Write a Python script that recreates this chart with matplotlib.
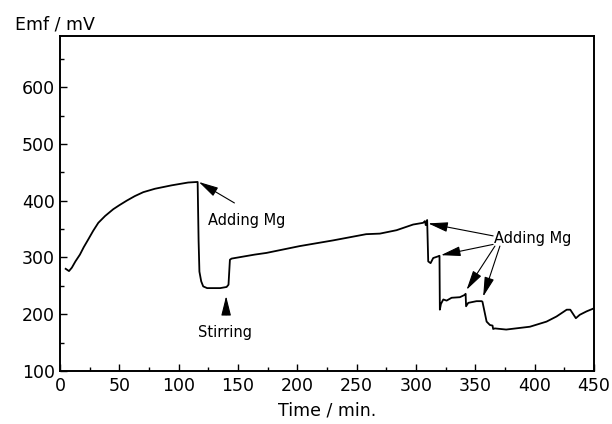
import matplotlib
matplotlib.use("Agg")
import matplotlib.pyplot as plt
from matplotlib.ticker import MultipleLocator

plt.rcParams["font.family"] = ["DejaVu Sans"]

# emf trace
time_min = [4.8, 7.6, 10, 13, 16.8, 20, 23.9, 28, 32.3, 38, 44.9, 50, 56.2, 63, 70.2,
            80, 94, 108, 116,
            116.8, 117.5, 119, 120.7, 124, 127.8, 135, 140.4, 142, 143.2, 144.6, 164, 174,
            202, 230, 258, 269.6, 283.6, 297.6, 306, 307.5, 308.2, 309.4,
            310.3, 312.3, 314.5, 318.7, 319.8, 320.1, 321, 323, 325.8, 330, 337, 341,
            341.8, 342.2, 344, 351, 355.3, 356, 359.5, 362.3, 364.5, 365, 366.5, 376,
            396, 410, 418.4, 427, 430, 434.7, 438, 443.7, 449.5]
emf_mv = [280, 276, 282, 293, 305, 318, 332, 347, 361, 373, 385, 392, 400, 408, 415,
          421, 427, 432, 433,
          330, 275, 258, 249, 246, 246, 246, 248, 252, 296, 298, 305, 308,
          320, 330, 341, 342, 348, 358, 361, 364, 357, 366,
          293, 290, 299, 302, 303, 208, 218, 226, 224, 229, 230, 234,
          236, 214, 220, 223, 223, 222, 187, 181, 180, 174, 175, 173,
          178, 187, 196, 208, 208, 193, 199, 205, 210]

# annotation labels, their positions and arrow tip/tail points (data units)
stir_text, stir_pos, stir_tip, stir_tail = "Stirring", (139, 168), (140, 232), (140, 199)
mg1_text, mg1_pos, mg1_tip, mg1_tail = "Adding Mg", (125, 365), (117, 433), (147, 396)
mg2_text, mg2_pos = "Adding Mg", (366, 334)
mg2_tips = [(310.3, 360), (321, 304), (342.6, 243), (356.6, 231)]
mg2_tails = [(365, 338), (365, 323), (366.5, 320), (370.7, 320)]

fig = plt.figure(figsize=(6.12, 4.24), dpi=100)
ax = fig.add_axes([0.098, 0.125, 0.8726, 0.79])
ax.plot(time_min, emf_mv, color="black", lw=1.3)

ax.set_xlim(0, 450)
ax.set_ylim(100, 690)
ax.xaxis.set_major_locator(MultipleLocator(50))
ax.xaxis.set_minor_locator(MultipleLocator(25))
ax.yaxis.set_minor_locator(MultipleLocator(50))
ax.set_yticks([100, 200, 300, 400, 500, 600])
ax.tick_params(which="both", direction="in", labelsize=12.5, top=False, right=False)
ax.tick_params(which="major", length=5, width=1)
ax.tick_params(which="minor", length=3, width=1)
ax.tick_params(axis="x", pad=4)
for s in ax.spines.values():
    s.set_linewidth(1.4)

ax.set_xlabel("Time / min.", fontsize=12.5, labelpad=5)
fig.text(0.025, 0.931, "Emf / mV", fontsize=12.5, ha="left", va="baseline")

arrow = dict(arrowstyle="-|>,head_length=1.2,head_width=0.3", color="black", lw=0.8,
             shrinkA=0, shrinkB=0)
ax.text(*mg1_pos, mg1_text, fontsize=10.5, ha="left", va="center")
ax.annotate("", xy=mg1_tip, xytext=mg1_tail, arrowprops=arrow)
ax.text(*stir_pos, stir_text, fontsize=10.5, ha="center", va="center")
ax.annotate("", xy=stir_tip, xytext=stir_tail, arrowprops=arrow)
ax.text(*mg2_pos, mg2_text, fontsize=10.5, ha="left", va="center")
for tip, tail in zip(mg2_tips, mg2_tails):
    ax.annotate("", xy=tip, xytext=tail, arrowprops=arrow)

fig.savefig("out.png", dpi=100)
